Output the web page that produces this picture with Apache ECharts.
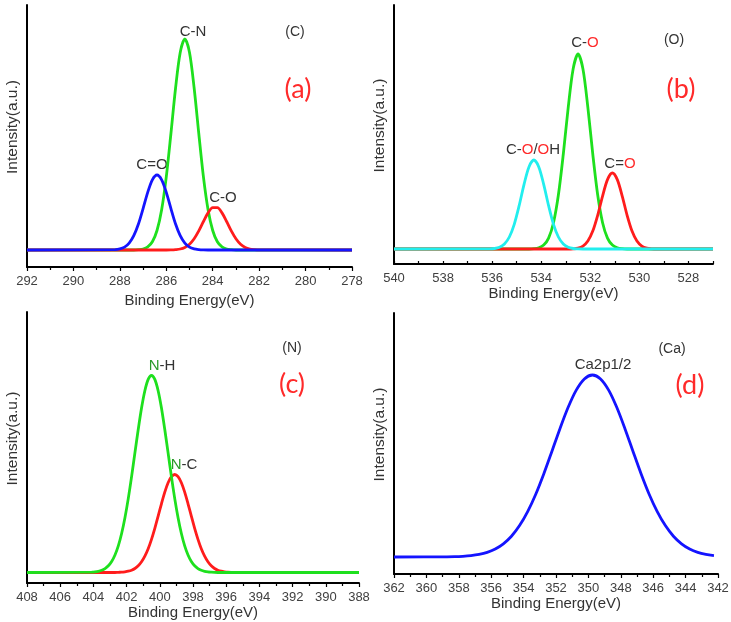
<!DOCTYPE html>
<html><head><meta charset="utf-8">
<script src="https://cdn.jsdelivr.net/npm/echarts@6/dist/echarts.min.js"></script>
<style>html,body{margin:0;padding:0;background:#fff}#c{width:731px;height:622px}</style>
</head><body><div id="c"></div>
<script>
// ---- Panel (a): C 1s ----
const cEnergy = [292, 288.2, 288.0, 287.8, 287.6, 287.4, 287.2, 287.0, 286.8, 286.6, 286.4, 286.2, 286.0, 285.8, 285.6, 285.4, 285.2, 285.0, 284.8, 284.6, 284.4, 284.2, 284.0, 283.8, 283.6, 283.4, 283.2, 283.0, 282.8, 282.6, 282.4, 282.2, 282.0, 278];
const cN  = [0,0,0,0,0,0,0.3,1.0,3.1,8.2,19.5,40.3,73.2,116.5,162,197.5,211,197.5,162,116.5,73.2,40.3,19.5,8.2,3.1,1.0,0.3,0,0,0,0,0,0,0];
const cDoubleO = [0,0.4,1.1,2.9,6.9,14.3,26,41.4,57.6,70.2,75,70.2,57.6,41.4,26,14.3,6.9,2.9,1.1,0.4,0.1,0,0,0,0,0,0,0,0,0,0,0,0,0];
const cSingleO = [0,0,0,0,0,0,0,0,0,0,0,0,0,0.1,0.4,1.0,2.6,5.8,11.3,19.1,28.5,37.1,42.3,42.3,37.1,28.5,19.1,11.3,5.8,2.6,1.0,0.4,0.1,0];

// ---- Panel (b): O 1s ----
const oEnergy = [540, 536.1, 535.9, 535.7, 535.5, 535.3, 535.1, 534.9, 534.7, 534.5, 534.3, 534.1, 533.9, 533.7, 533.5, 533.3, 533.1, 532.9, 532.7, 532.5, 532.3, 532.1, 531.9, 531.7, 531.5, 531.3, 531.1, 530.9, 530.7, 530.5, 530.3, 530.1, 529.9, 529.7, 529.5, 529.3, 527];
const oCOOH = [0,0.1,0.5,1.8,5.0,12.0,24.7,43.3,64.6,82.1,89,82.1,64.6,43.3,24.7,12.0,5.0,1.8,0.5,0.1,0,0,0,0,0,0,0,0,0,0,0,0,0,0,0,0,0];
const oCO = [0,0,0,0,0,0,0,0,0,0,0.3,1.2,3.9,10.9,26.3,54.2,95,141.6,180,195,180,141.6,95,54.2,26.3,10.9,3.9,1.2,0.3,0,0,0,0,0,0,0,0];
const oCdO = [0,0,0,0,0,0,0,0,0,0,0,0,0,0,0,0,0,0,0.2,0.9,2.9,7.9,17.9,33.7,52.9,69.4,76,69.4,52.9,33.7,17.9,7.9,2.9,0.9,0.2,0,0];

// ---- Panel (c): N 1s ----
const nEnergy = [408, 404.1, 403.9, 403.7, 403.5, 403.3, 403.1, 402.9, 402.7, 402.5, 402.3, 402.1, 401.9, 401.7, 401.5, 401.3, 401.1, 400.9, 400.7, 400.5, 400.3, 400.1, 399.9, 399.7, 399.5, 399.3, 399.1, 398.9, 398.7, 398.5, 398.3, 398.1, 397.9, 397.7, 397.5, 397.3, 397.1, 396.9, 396.7, 396.5, 396.3, 396.1, 395.9, 395.7, 388];
const nNH = [0,0.3,0.6,1.2,2.2,3.9,6.7,11.0,17.5,26.6,39.0,54.8,73.9,95.9,119.6,143.0,164.5,181.8,193.1,197,193.1,181.8,164.5,143.0,119.6,95.9,73.9,54.8,39.0,26.6,17.5,11.0,6.7,3.9,2.2,1.2,0.6,0.3,0.1,0,0,0,0,0,0];
const nNC = [0,0,0,0,0,0,0,0,0,0.2,0.3,0.7,1.3,2.3,4.0,6.7,10.7,16.3,23.7,33.1,44.1,56.4,68.7,80.3,89.7,95.8,98,95.8,89.7,80.3,68.7,56.4,44.1,33.1,23.7,16.3,10.7,6.7,4.0,2.3,1.3,0.7,0.3,0.2,0];

// ---- Panel (d): Ca 2p ----
const caEnergy = [362, 358.75, 358.25, 357.75, 357.25, 356.75, 356.25, 355.75, 355.25, 354.75, 354.25, 353.75, 353.25, 352.75, 352.25, 351.75, 351.25, 350.75, 350.25, 349.75, 349.25, 348.75, 348.25, 347.75, 347.25, 346.75, 346.25, 345.75, 345.25, 344.75, 344.25, 343.75, 343.25, 342.75, 342.25];
const ca2p = [0,0.2,0.3,0.7,1.4,2.6,4.6,8.0,13.2,20.8,31.4,45.4,62.8,83.3,105.8,128.6,149.7,166.9,178.1,182,178.1,166.9,149.7,128.6,105.8,83.3,62.8,45.4,31.4,20.8,13.2,8.0,4.6,2.6,1.4];

const xName = 'Binding Energy(eV)';
const yName = 'Intensity(a.u.)';

function pairs(xs, ys) { return xs.map((x, i) => [x, ys[i]]); }

const FONT = '"Liberation Sans", Arial, sans-serif';
const LETTER_FONT = 'Lato, "Open Sans", sans-serif';
const GREEN = '#1ee01e', RED = '#ff1c1c', BLUE = '#1414ff', CYAN = '#22eeee';

function xAxis(gi, min, max, gap, interval, hideOdd) {
  return {
    type: 'value', gridIndex: gi, inverse: true, min: min, max: max, interval: interval,
    name: xName, nameLocation: 'middle', nameGap: gap,
    nameTextStyle: { fontFamily: FONT, fontSize: 15, color: '#333' },
    axisLine: { show: true, onZero: false, lineStyle: { color: '#000', width: 2 } },
    axisTick: { show: true, inside: hideOdd ? true : false, length: hideOdd ? 3 : 4, lineStyle: { color: '#000', width: 1.2 } },
    minorTick: { show: !hideOdd, splitNumber: 2, length: 3, lineStyle: { color: '#000', width: 1.2 } },
    splitLine: { show: false },
    axisLabel: {
      fontFamily: FONT, fontSize: 13, color: '#404040', margin: 8, showMinLabel: true, showMaxLabel: true,
      formatter: hideOdd ? (v => (v % 2 === 0 ? String(v) : '')) : (v => String(v))
    }
  };
}
function yAxis(gi, min, max) {
  return {
    type: 'value', gridIndex: gi, min: min, max: max,
    name: yName, nameLocation: 'middle', nameGap: 6,
    nameTextStyle: { fontFamily: FONT, fontSize: 15.5, color: '#333', padding: [0, 0, 0, 18] },
    axisLine: { show: true, onZero: false, lineStyle: { color: '#000', width: 2 } },
    axisTick: { show: false }, axisLabel: { show: false }, splitLine: { show: false }
  };
}
function line(xi, data, color, z) {
  return {
    type: 'line', xAxisIndex: xi, yAxisIndex: xi, data: data, showSymbol: false, symbol: 'none',
    smooth: 0.3, z: z, silent: true,
    lineStyle: { color: color, width: 2.8 }
  };
}
function txt(x, y, text, size, fill, rich, family) {
  return {
    type: 'text', x: x, y: y, silent: true,
    style: {
      text: text, fill: fill, font: size + 'px ' + (family || FONT), align: 'center', verticalAlign: 'middle',
      rich: rich || {}
    }
  };
}
const redO = { r: { fill: '#ff2a2a', font: '15px ' + FONT } };
const grnN = { g: { fill: '#2a9a2a', font: '15px ' + FONT } };
const LBL = 15;

const option = {
  backgroundColor: '#ffffff',
  animation: false,
  grid: [
    { left: 27, top: 5, width: 325, height: 262, outerBoundsMode: 'none', containLabel: false },
    { left: 394, top: 5, width: 319, height: 259, outerBoundsMode: 'none', containLabel: false },
    { left: 27, top: 312, width: 332, height: 271, outerBoundsMode: 'none', containLabel: false },
    { left: 394, top: 313, width: 324, height: 261, outerBoundsMode: 'none', containLabel: false }
  ],
  xAxis: [
    xAxis(0, 278, 292, 26, 2, false),
    xAxis(1, 527, 540, 22, 1, true),
    xAxis(2, 388, 408, 22, 2, false),
    xAxis(3, 342, 362, 22, 2, false)
  ],
  yAxis: [
    yAxis(0, -17, 245),
    yAxis(1, -15, 244),
    yAxis(2, -10.5, 260.5),
    yAxis(3, -17, 244)
  ],
  series: [
    line(0, pairs(cEnergy, cN), GREEN, 2),
    line(0, pairs(cEnergy, cSingleO), RED, 3),
    line(0, pairs(cEnergy, cDoubleO), BLUE, 4),
    line(1, pairs(oEnergy, oCO), GREEN, 2),
    line(1, pairs(oEnergy, oCdO), RED, 3),
    line(1, pairs(oEnergy, oCOOH), CYAN, 4),
    line(2, pairs(nEnergy, nNC), RED, 2),
    line(2, pairs(nEnergy, nNH), GREEN, 3),
    line(3, pairs(caEnergy, ca2p), BLUE, 2)
  ],
  graphic: [
    // panel a
    txt(295, 32, '(C)', 14, '#333'),
    txt(298, 89, '(a)', 27, '#ff2a2a', null, LETTER_FONT),
    txt(193, 32, 'C-N', LBL, '#333'),
    txt(152, 165, 'C=O', LBL, '#333'),
    txt(223, 198, 'C-O', LBL, '#333'),
    // panel b
    txt(674, 40, '(O)', 14, '#333'),
    txt(681, 89, '(b)', 27, '#ff2a2a', null, LETTER_FONT),
    txt(585, 43, 'C-{r|O}', LBL, '#333', redO),
    txt(533, 150, 'C-{r|O}/{r|O}H', LBL, '#333', redO),
    txt(620, 164, 'C={r|O}', LBL, '#333', redO),
    // panel c
    txt(292, 348, '(N)', 14, '#333'),
    txt(292, 384, '(c)', 27, '#ff2a2a', null, LETTER_FONT),
    txt(162, 366, '{g|N}-H', LBL, '#333', grnN),
    txt(184, 465, '{g|N}-C', LBL, '#333', grnN),
    // panel d
    txt(672, 349, '(Ca)', 14, '#333'),
    txt(690, 385, '(d)', 27, '#ff2a2a', null, LETTER_FONT),
    txt(603, 365, 'Ca2p1/2', LBL, '#333')
  ]
};
const chart = echarts.init(document.getElementById('c'), null, { renderer: 'canvas' });
chart.setOption(option);
</script>
</body></html>
